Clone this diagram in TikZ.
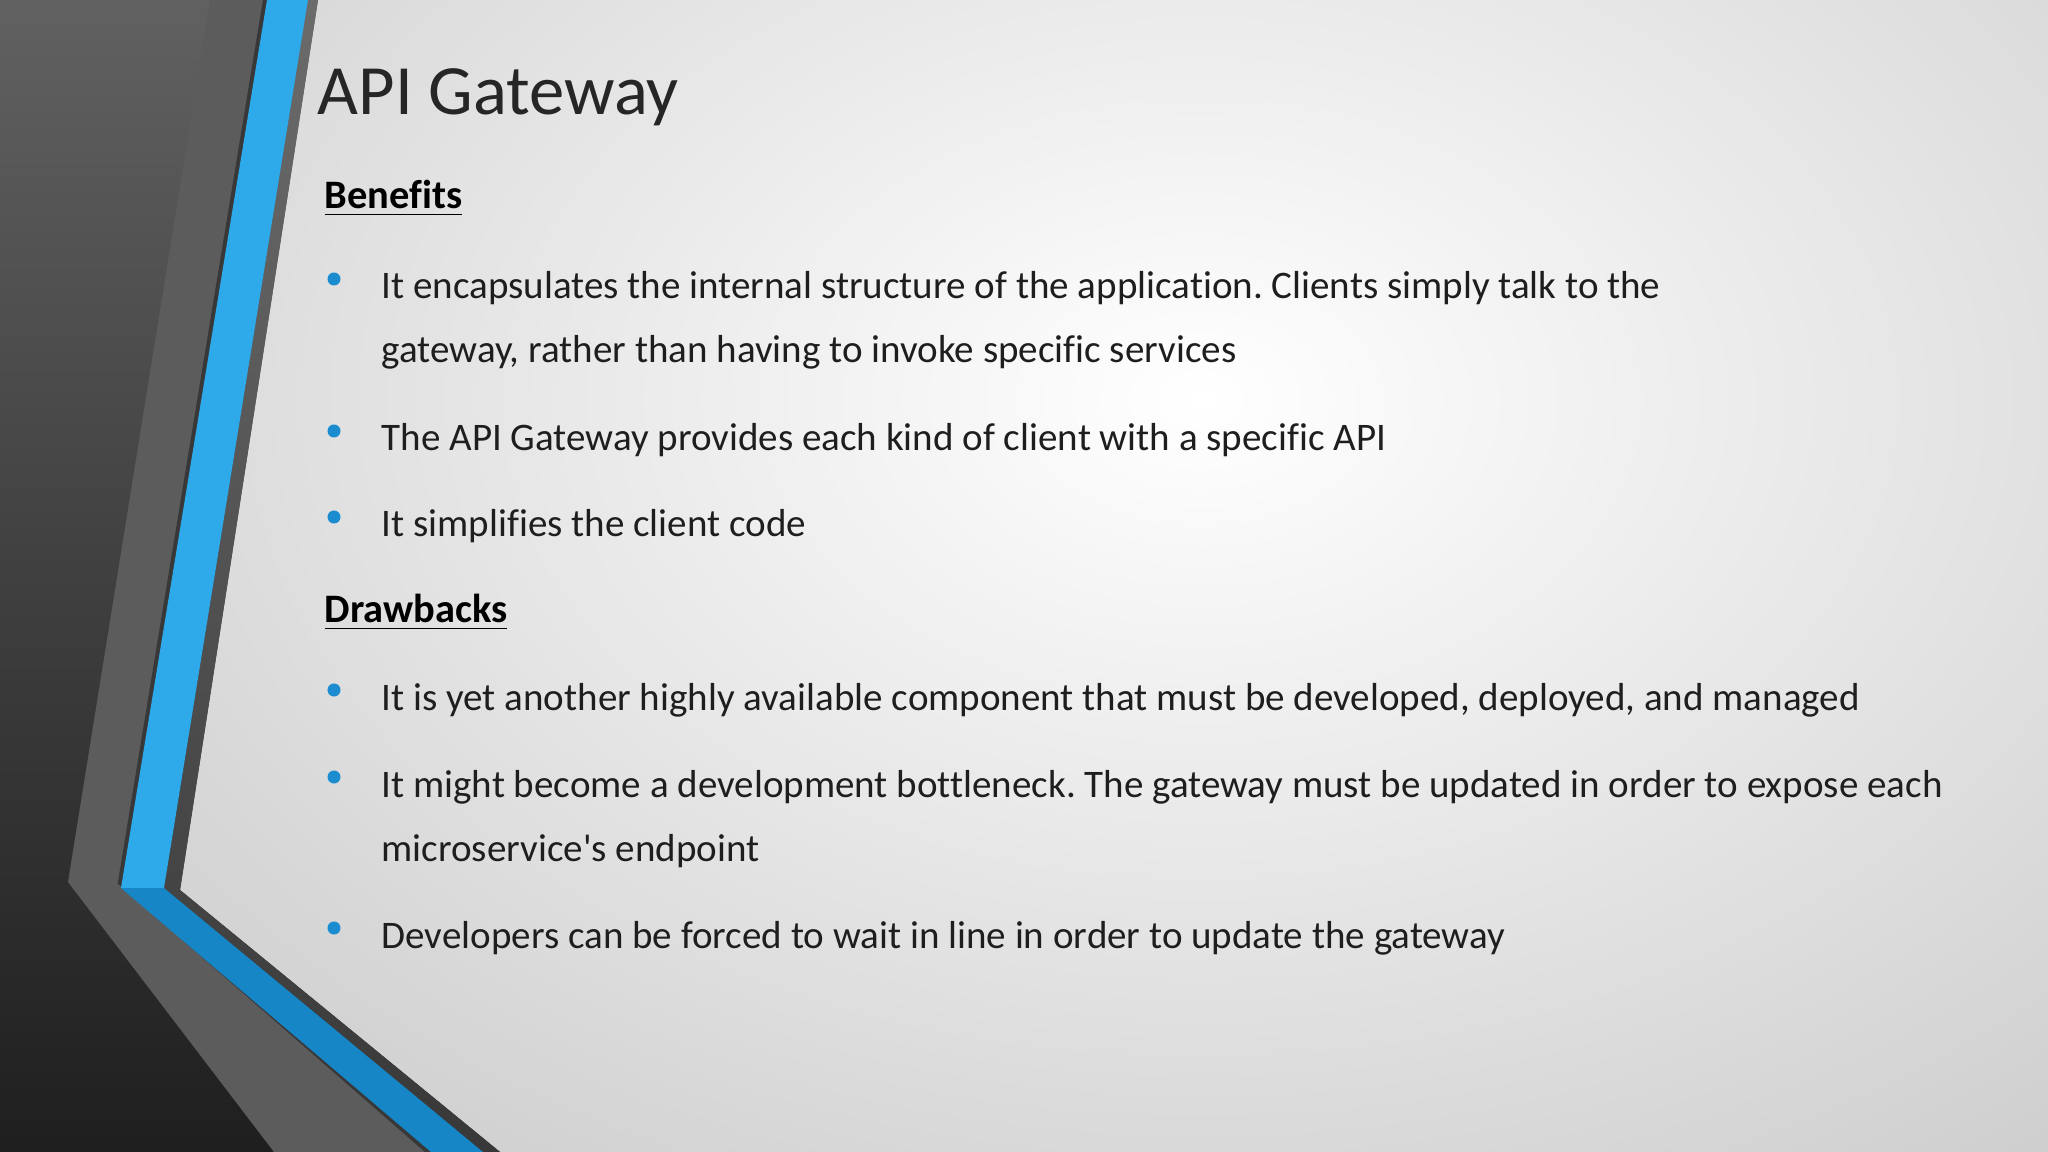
\documentclass[tikz,border=0pt]{standalone}
\usepackage{fontspec}
\setmainfont{Carlito}[Ligatures={NoCommon}]
\frenchspacing
\usetikzlibrary{shadings}
\definecolor{bluebar}{HTML}{2EA9E9}
\definecolor{bluedark}{HTML}{1786C6}
\definecolor{bullet}{HTML}{1A8CCF}
\definecolor{txt}{HTML}{1E1E1E}
\tikzset{
  body/.style={anchor=base west, inner sep=0pt, font=\fontsize{11.1pt}{13pt}\selectfont, text=txt},
  head/.style={anchor=base west, inner sep=0pt, font=\fontsize{11.5pt}{13pt}\selectfont\bfseries, text=black},
  dot/.style={circle, fill=bullet, inner sep=0pt, minimum size=0.13cm}
}
\newcommand{\ul}[1]{\underline{#1}}
\begin{document}
\begin{tikzpicture}[x=0.01cm,y=-0.01cm]
\useasboundingbox (0,0) rectangle (2048,1152);
% background
\shade[inner color=white, outer color=black!22, shading=radial] (-400,-700) rectangle (2800,1500);
% left dark region
\shade[top color=black!62, bottom color=black!88] (0,0) -- (318,0) -- (180,890) -- (500,1152) -- (0,1152) -- cycle;
% gray band
\fill[black!64] (210,0) -- (267,0) -- (122,882) -- (431,1152) -- (274,1152) -- (68,882) -- cycle;
\draw[black!78, line width=0.08cm] (267,0) -- (122,882) -- (431,1152);
% dark line
\shade[top color=black!58, bottom color=black!78] (308,0) -- (318,0) -- (180,890) -- (500,1152) -- (483,1152) -- (164,888) -- cycle;
% blue band
\fill[bluebar] (267,0) -- (308,0) -- (164,888) -- (121,888) -- cycle;
\fill[bluedark] (121,888) -- (164,888) -- (483,1152) -- (431,1152) -- cycle;
% title
\node[anchor=base west, inner sep=0pt, font=\fontsize{20.1pt}{24pt}\selectfont, text=black!85] (title) at (317,115) {API Gateway};
\node[head] (ben) at (324,209) {\ul{Benefits}};
\node[dot] (b1d) at (334,279) {};
\node[body] (b1) at (381,299) {It encapsulates the internal structure of the application. Clients simply talk to the};
\node[body] (b1b) at (381,363) {gateway, rather than having to invoke specific services};
\node[dot] (b2d) at (334,431) {};
\node[body] (b2) at (381,451) {The API Gateway provides each kind of client with a specific API};
\node[dot] (b3d) at (334,517) {};
\node[body] (b3) at (381,537) {It simplifies the client code};
\node[head] (dra) at (324,623) {\ul{Drawbacks}};
\node[dot] (d1d) at (334,690) {};
\node[body] (d1) at (381,710) {It is yet another highly available component that must be developed, deployed, and managed};
\node[dot] (d2d) at (334,777) {};
\node[body] (d2) at (381,797) {It might become a development bottleneck. The gateway must be updated in order to expose each};
\node[body] (d2b) at (381,861) {microservice\textquotesingle s endpoint};
\node[dot] (d3d) at (334,928) {};
\node[body] (d3) at (381,948) {Developers can be forced to wait in line in order to update the gateway};
\end{tikzpicture}
\end{document}
